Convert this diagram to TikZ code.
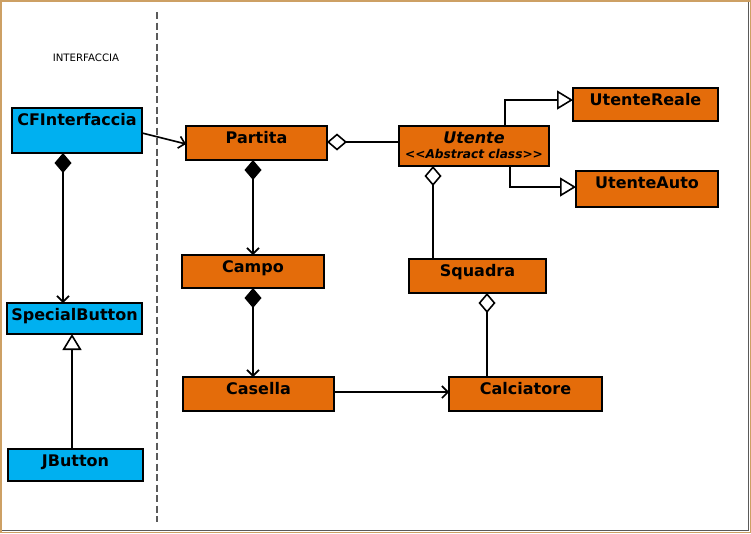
\documentclass[tikz,border=0pt]{standalone}
\usepackage{fontspec}
\setmainfont{DejaVu Sans}
\usetikzlibrary{arrows.meta}
\definecolor{uorange}{RGB}{228,108,10}
\definecolor{ublue}{RGB}{0,176,240}
\definecolor{frametan}{RGB}{205,160,100}
\definecolor{dashgrey}{RGB}{90,90,90}
\tikzset{
  box/.style={draw=black, line width=1.3pt, anchor=north west, inner sep=0pt, outer sep=0pt},
  obox/.style={box, fill=uorange},
  bbox/.style={box, fill=ublue},
  lbl/.style={anchor=base, font=\bfseries\fontsize{16}{18}\selectfont, inner sep=0pt},
  conn/.style={line width=1.6pt, black},
  nav/.style={conn, -{Straight Barb[length=6pt,width=12pt,line width=1.6pt]}},
  fdia/.style={conn, {Diamond[length=20pt,width=17pt,fill=black]}-{Straight Barb[length=6pt,width=12pt,line width=1.6pt]}},
  hdia/.style={conn, {Diamond[length=20pt,width=17pt,open,fill=white]}-},
  inh/.style={conn, -{Triangle[length=16pt,width=19pt,open,fill=white]}},
}
\begin{document}
\begin{tikzpicture}[x=1pt,y=-1pt]
\useasboundingbox (0,0) rectangle (751,533);
% frame
\draw[frametan, line width=1.5pt] (0.75,0.75) rectangle (750.25,532.25);
\draw[dashgrey, line width=1.2pt] (748.5,1.5) -- (748.5,530.5) -- (1.5,530.5);
% separator
\draw[dashgrey, line width=1.2pt, dash pattern=on 7pt off 3.5pt] (157,12) -- (157,522);
\node[font=\fontsize{10.2}{12}\selectfont, anchor=base, inner sep=0pt] (title) at (86,61.5) {INTERFACCIA};
% boxes
\node[bbox, minimum width=130pt, minimum height=45pt] (cf) at (12,108) {};
\node[lbl] at ([yshift=-17pt]cf.north) {CFInterfaccia};
\node[bbox, minimum width=135pt, minimum height=31pt] (sb) at (7,303) {};
\node[lbl] at ([yshift=-17pt]sb.north) {SpecialButton};
\node[bbox, minimum width=135pt, minimum height=32pt] (jb) at (8,449) {};
\node[lbl] at ([yshift=-17pt]jb.north) {JButton};
\node[obox, minimum width=141pt, minimum height=34pt] (partita) at (186,126) {};
\node[lbl] at ([yshift=-17pt]partita.north) {Partita};
\node[obox, minimum width=142pt, minimum height=33pt] (campo) at (182,255) {};
\node[lbl] at ([yshift=-17pt]campo.north) {Campo};
\node[obox, minimum width=151pt, minimum height=34pt] (casella) at (183,377) {};
\node[lbl] at ([yshift=-17pt]casella.north) {Casella};
\node[obox, minimum width=150pt, minimum height=40pt] (utente) at (399,126) {};
\node[lbl, font=\bfseries\itshape\fontsize{16}{18}\selectfont] at ([yshift=-17pt]utente.north) {Utente};
\node[lbl, font=\bfseries\itshape\fontsize{12.2}{14}\selectfont] at ([yshift=-32pt]utente.north) {{<}{<}Abstract class{>}{>}};
\node[obox, minimum width=145pt, minimum height=33pt] (ureale) at (573,88) {};
\node[lbl] at ([yshift=-17pt]ureale.north) {UtenteReale};
\node[obox, minimum width=142pt, minimum height=36pt] (uauto) at (576,171) {};
\node[lbl] at ([yshift=-17pt]uauto.north) {UtenteAuto};
\node[obox, minimum width=137pt, minimum height=34pt] (squadra) at (409,259) {};
\node[lbl] at ([yshift=-17pt]squadra.north) {Squadra};
\node[obox, minimum width=153pt, minimum height=34pt] (calc) at (449,377) {};
\node[lbl] at ([yshift=-17pt]calc.north) {Calciatore};
% connectors
\draw[nav] ([yshift=-2.5pt]cf.east) -- ([yshift=-1pt]partita.west);
\draw[fdia] ([xshift=-14pt]cf.south) -- ([xshift=-14pt]cf.south |- sb.north);
\draw[inh] ([xshift=-3.5pt]jb.north) -- ([xshift=-3.5pt]jb.north |- sb.south);
\draw[fdia] ([xshift=-3.5pt]partita.south) -- ([xshift=-3.5pt]partita.south |- campo.north);
\draw[fdia] (campo.south) -- (campo.south |- casella.north);
\draw[hdia] ([yshift=1pt]partita.east) -- ([yshift=1pt]partita.east -| utente.west);
\draw[hdia] ([xshift=-41pt]utente.south) -- ([xshift=-41pt]utente.south |- squadra.north);
\draw[hdia] ([xshift=9.5pt]squadra.south) -- ([xshift=9.5pt]squadra.south |- calc.north);
\draw[nav] ([yshift=2pt]casella.east) -- ([yshift=2pt]casella.east -| calc.west);
\draw[inh] ([xshift=31pt]utente.north) |- ([yshift=4.5pt]ureale.west);
\draw[inh] ([xshift=36pt]utente.south) |- ([yshift=2pt]uauto.west);
\end{tikzpicture}
\end{document}
